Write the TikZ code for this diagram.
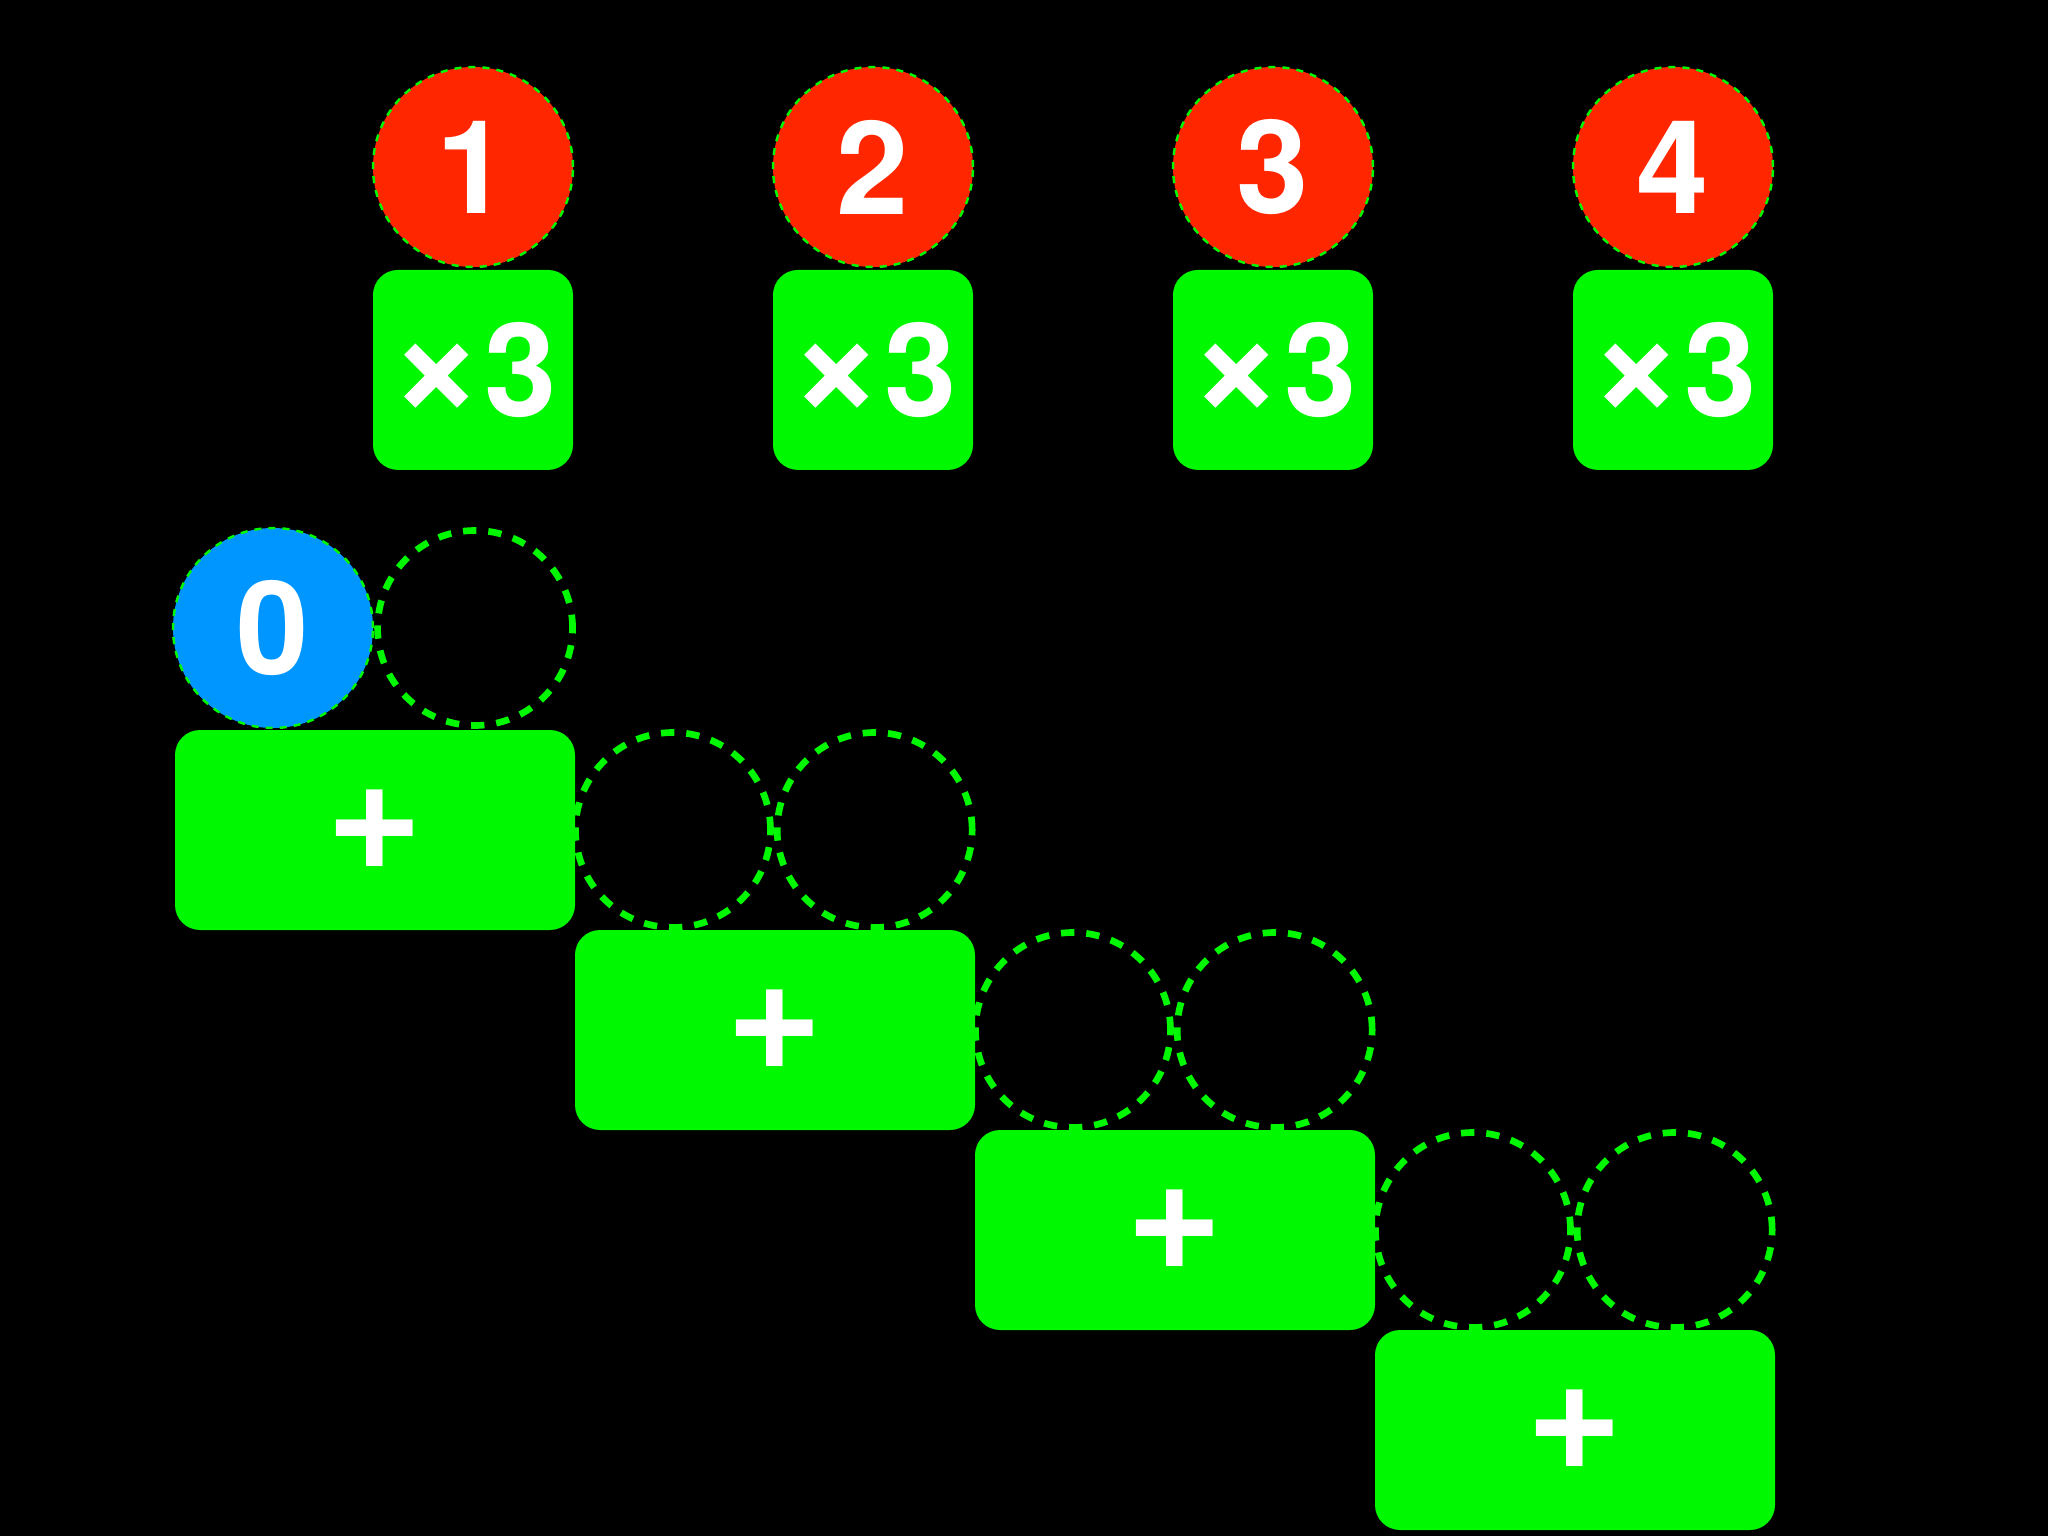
\documentclass[tikz,border=0pt]{standalone}
\usepackage{fontspec}
\setmainfont{TeX Gyre Heros}
\usetikzlibrary{positioning}

\definecolor{numred}{RGB}{255,38,0}
\definecolor{opgreen}{RGB}{0,249,0}
\definecolor{zeroblue}{RGB}{0,150,255}

\newcommand{\bigtimes}{{\fontsize{46}{46}\selectfont ×}}

\tikzset{
  label font/.style={font=\bfseries\fontsize{37}{40}\selectfont, text=white},
  digit/.style={circle, label font, fill=numred, draw=opgreen, line width=0.7pt,
    dash pattern=on 2pt off 2pt, minimum size=2cm, inner sep=0pt},
  zero/.style={digit, fill=zeroblue},
  slot/.style={circle, draw=opgreen, line width=1.9pt, dash pattern=on 3.8pt off 3.4pt,
    minimum size=1.95cm, inner sep=0pt},
  times/.style={rectangle, label font, fill=opgreen, rounded corners=0.25cm,
    minimum width=2cm, minimum height=2cm, inner sep=0pt},
  adder/.style={times, minimum width=4cm, font=\bfseries\fontsize{47}{50}\selectfont}
}

\begin{document}
\begin{tikzpicture}
		\fill[black] (0,0) rectangle (20.48,-15.36);

		\foreach \i in {1,...,4} {
			\node[digit] (n\i) at ({0.73+4*\i},-1.67) {\i};
			\node[times, below=0.01cm of n\i] (m\i) {\bigtimes3};
		}

		\node[zero] (z) at (2.73,-6.28) {0};
		\node[slot, right=0pt of z] (q1) {};

		\foreach \i in {2,...,4} {
			\node[slot] (p\i) at ({4*\i-1.27},{-4.3-2*\i}) {};
			\node[slot, right=0pt of p\i] (q\i) {};
		}

		\foreach \i in {1,...,4}
			\node[adder] (a\i) at ({4*\i-0.25},{-6.3-2*\i}) {+};
\end{tikzpicture}
\end{document}
